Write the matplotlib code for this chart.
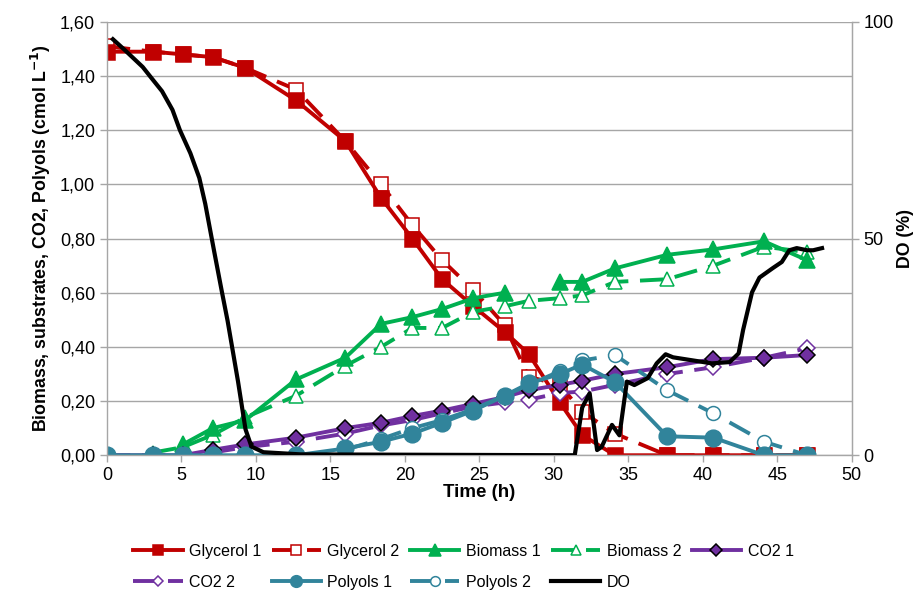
import numpy as np
import matplotlib
matplotlib.use("Agg")
import matplotlib.pyplot as plt
from matplotlib.ticker import FuncFormatter, MultipleLocator

plt.rcParams['font.family'] = ['Liberation Sans', 'DejaVu Sans']

# ── Data ──────────────────────────────────────────────────────────────────────
time_h = [0, 3.1, 5.1, 7.1, 9.3, 12.7, 16.0, 18.4, 20.5, 22.5,
          24.6, 26.7, 28.3, 30.4, 31.9, 34.1, 37.6, 40.7, 44.1, 47.0]

glycerol_1 = [1.49, 1.49, 1.48, 1.47, 1.43, 1.31, 1.16, 0.95, 0.80, 0.65,
              0.55, 0.455, 0.375, 0.195, 0.075, 0.0, 0.0, 0.0, 0.0, 0.0]
glycerol_2 = [1.51, 1.49, 1.48, 1.47, 1.43, 1.35, 1.16, 1.00, 0.85, 0.72,
              0.61, 0.48, 0.29, 0.26, 0.16, 0.08, 0.0, 0.0, 0.0, 0.0]

biomass_1 = [np.nan, np.nan, 0.04, 0.10, 0.13, 0.28, 0.36, 0.485, 0.51, 0.54,
             0.58, 0.60, np.nan, 0.64, 0.64, 0.69, 0.74, 0.76, 0.79, 0.72]
biomass_2 = [np.nan, 0.01, 0.03, 0.075, 0.14, 0.22, 0.33, 0.40, 0.47, 0.47,
             0.53, 0.55, 0.57, 0.58, 0.59, 0.64, 0.65, 0.70, 0.77, 0.75]

co2_1 = [0.0, 0.0, 0.0, 0.02, 0.04, 0.065, 0.10, 0.12, 0.145, 0.165,
         0.19, 0.215, 0.24, 0.26, 0.275, 0.30, 0.325, 0.355, 0.36, 0.37]
co2_2 = [0.0, 0.0, 0.0, 0.01, 0.03, 0.05, 0.08, 0.11, 0.13, 0.155,
         0.18, 0.195, 0.205, 0.23, 0.235, 0.26, 0.30, 0.325, 0.36, 0.395]

polyols_1 = [0.0, 0.0, 0.0, 0.0, 0.0, 0.0, 0.025, 0.05, 0.08, 0.12,
             0.165, 0.22, 0.265, 0.30, 0.335, 0.27, 0.07, 0.065, 0.0, 0.0]
polyols_2 = [np.nan, np.nan, np.nan, np.nan, np.nan, np.nan, 0.02, 0.06, 0.10, 0.13,
             0.17, 0.22, 0.26, 0.31, 0.35, 0.37, 0.24, 0.155, 0.05, 0.0]

do_time = [0.4, 1.2, 2.4, 3.0, 3.7, 4.4, 4.9, 5.6, 6.2, 6.6, 7.2, 7.7, 8.1,
           8.8, 9.3, 9.7, 10.5, 13.0, 31.4, 31.9, 32.4, 32.9, 33.2, 33.9,
           34.4, 34.9, 35.4, 36.3, 36.9, 37.5, 38.0, 40.6, 41.8, 42.4, 42.7,
           43.3, 43.8, 44.7, 45.3, 45.8, 46.3, 47.0, 47.4, 48.0]
do_pct = [96, 93.5, 89.6, 87, 84, 79.7, 75, 69.7, 64, 58, 47, 38, 31,
          17, 6, 2, 0.7, 0.2, 0, 11, 14.3, 1.2, 1.9, 7,
          4.6, 17, 16.2, 17.8, 21.2, 23.3, 22.6, 21.2, 21.5, 23.5, 28.9,
          37.6, 41, 43.2, 44.6, 47.3, 47.8, 47.3, 47.3, 47.8]

# ── Styling ───────────────────────────────────────────────────────────────────
RED    = "#C00000"
GREEN  = "#00B050"
PURPLE = "#7030A0"
TEAL   = "#31849B"
GRIDC  = "#A6A6A6"
LW     = 2.8
DASH   = (6, 3)

fig = plt.figure(figsize=(9.14, 5.92), dpi=100)
ax = fig.add_axes([0.117, 0.231, 0.815, 0.732])

# name, values, colour, marker, filled, dashed, marker size
series = [
    ("Glycerol 1", glycerol_1, RED,    "s", True,  False, 10.8),
    ("Glycerol 2", glycerol_2, RED,    "s", False, True,  9.5),
    ("Biomass 1",  biomass_1,  GREEN,  "^", True,  False, 11.5),
    ("Biomass 2",  biomass_2,  GREEN,  "^", False, True,  10),
    ("CO2 1",      co2_1,      PURPLE, "D", True,  False, 8.5),
    ("CO2 2",      co2_2,      PURPLE, "D", False, True,  8),
    ("Polyols 1",  polyols_1,  TEAL,   "o", True,  False, 12),
    ("Polyols 2",  polyols_2,  TEAL,   "o", False, True,  10),
]

handles = {}
for i, (name, vals, col, mk, filled, dashed, ms) in enumerate(series):
    edge = "black" if (mk == "D" and filled) else col
    face = col if filled else "white"
    # run 2 sits just under run 1 of the same quantity
    z = 2 + (i // 2) * 0.1 + (0.05 if filled else 0.0)
    line, = ax.plot(time_h, vals, color=col, lw=LW, marker=mk, markersize=ms,
                    markerfacecolor=face, markeredgecolor=edge,
                    markeredgewidth=1.1, label=name, zorder=z)
    if dashed:
        line.set_dashes(DASH)
    handles[name] = line

ax.set_xlim(0, 50)
ax.set_ylim(0, 1.6)
ax.xaxis.set_major_locator(MultipleLocator(5))
ax.yaxis.set_major_locator(MultipleLocator(0.2))
ax.yaxis.set_major_formatter(FuncFormatter(lambda v, p: f"{v:.2f}".replace(".", ",")))
ax.grid(axis="y", color=GRIDC, lw=1.0)
ax.set_axisbelow(True)
for s in ["left", "bottom", "right"]:
    ax.spines[s].set_color(GRIDC)
    ax.spines[s].set_linewidth(1.0)
ax.spines["top"].set_visible(False)
ax.tick_params(axis="both", colors=GRIDC, labelcolor="black", labelsize=13,
               length=5, width=1.0)
ax.set_xlabel("Time (h)", fontsize=13.5, fontweight="bold", labelpad=0)
ax.set_ylabel("Biomass, substrates, CO2, Polyols (cmol L$^{\\mathbf{-1}}$)",
              fontsize=12.8, fontweight="bold", labelpad=5)

# DO on the secondary axis
ax2 = ax.twinx()
do_line, = ax2.plot(do_time, do_pct, color="black", lw=LW + 0.2, label="DO")
handles["DO"] = do_line
ax2.set_ylim(0, 100)
ax2.set_yticks([0, 50, 100])
for s in ["left", "bottom", "top"]:
    ax2.spines[s].set_visible(False)
ax2.spines["right"].set_color(GRIDC)
ax2.tick_params(axis="y", colors=GRIDC, labelcolor="black", labelsize=13,
                length=5, width=1.0)
ax2.set_ylabel("DO (%)", fontsize=12.8, fontweight="bold", labelpad=2)

# Legend: matplotlib fills column-wise, so reorder for the row layout
order = ["Glycerol 1", "CO2 2", "Glycerol 2", "Polyols 1", "Biomass 1",
         "Polyols 2", "Biomass 2", "DO", "CO2 1"]
fig.legend([handles[k] for k in order], order, loc="center left",
           bbox_to_anchor=(0.1455, 0.043), ncol=5, frameon=False,
           fontsize=11.5, handlelength=3.1, handletextpad=0.4,
           columnspacing=0.65, labelspacing=1.0, markerscale=0.7,
           borderpad=0, borderaxespad=0)

fig.savefig("out.png", dpi=100)
